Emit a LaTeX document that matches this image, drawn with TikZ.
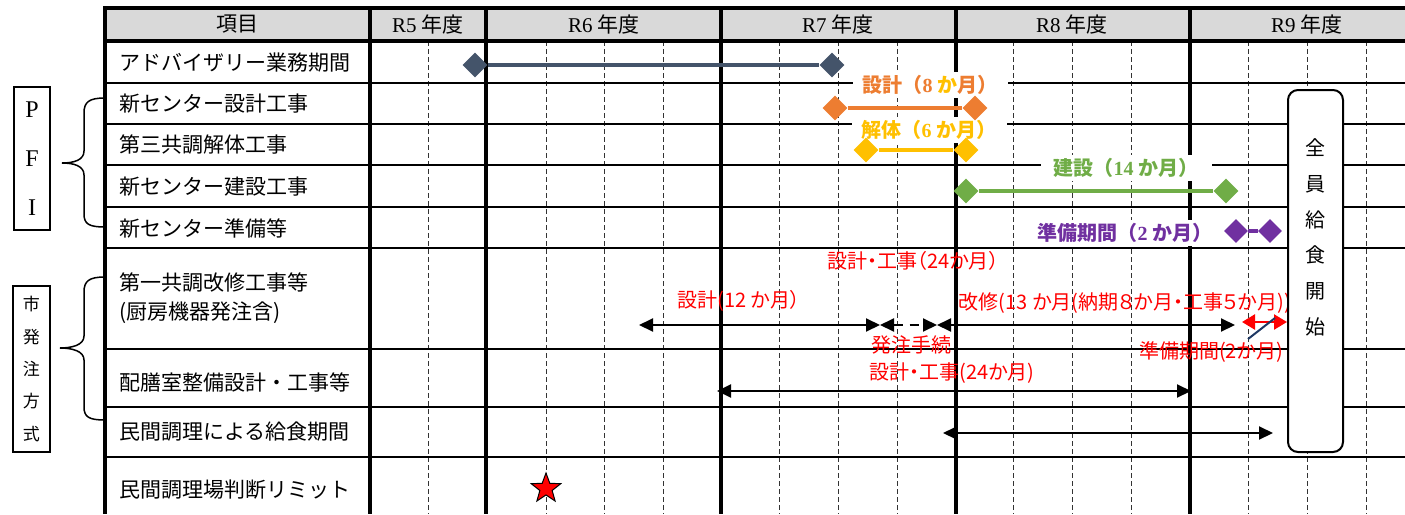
\documentclass[tikz,border=0pt]{standalone}
\usepackage{fontspec}
\setmainfont{Liberation Serif}
\newfontfamily\jp{Noto Sans CJK JP}
\newfontfamily\jpp[RawFeature={+palt}]{Noto Sans CJK JP}
\usetikzlibrary{shapes.geometric,arrows.meta}
\definecolor{hdrgray}{HTML}{D9D9D9}
\definecolor{slate}{HTML}{44546A}
\definecolor{cOrange}{HTML}{ED7D31}
\definecolor{cGold}{HTML}{FFC000}
\definecolor{cGreen}{HTML}{70AD47}
\definecolor{cPurple}{HTML}{7030A0}
\definecolor{cRed}{HTML}{FF0000}
\definecolor{cNavy}{HTML}{1F3864}
\newcommand\jb{\jp\bfseries}
\begin{document}
\begin{tikzpicture}[x=1pt,y=-1pt,
  thickline/.style={line width=3.2pt,black},
  rowline/.style={line width=2.2pt,black},
  dashline/.style={line width=1pt,black!80,dash pattern=on 5pt off 3pt},
  hdr/.style={inner sep=0pt,font=\fontsize{21}{24}\selectfont},
  rowlab/.style={anchor=west,inner sep=0pt,font=\jp\fontsize{21}{29}\selectfont,align=left},
  dia/.style={diamond,inner sep=0pt,minimum width=25pt,minimum height=25pt},
  bar/.style={line width=4pt},
  clabel/.style={fill=white,inner xsep=10pt,inner ysep=3pt,font=\fontsize{20}{22}\selectfont},
  rlabel/.style={text=cRed,inner sep=0pt,font=\jpp\fontsize{20}{22}\selectfont},
  arr/.style={line width=2pt,{Triangle[length=14pt,width=13pt]}-{Triangle[length=14pt,width=13pt]}},
  sidebox/.style={draw,line width=1.5pt,inner sep=0pt,align=center},
  brace/.style={line width=1.5pt}
]
\useasboundingbox (0,0) rectangle (1405,514);
% header fill
\fill[hdrgray] (105,8) rectangle (1405,41);
% dashed quarter lines
\foreach \x in {428,546,604,663,779,838,897,1013,1072,1131,1248,1307,1366}
  \draw[dashline] (\x,41) -- (\x,514);
% row lines
\foreach \y in {83,124,165,207,248,349,407,457}
  \draw[rowline] (105,\y) -- (1405,\y);
\draw[thickline] (103.4,8) -- (1405,8);
\draw[thickline] (105,41) -- (1405,41);
\foreach \x in {105,370,486,721,956,1190}
  \draw[thickline] (\x,6.4) -- (\x,514);

% header texts
\node[hdr] (h0) at (237.5,24) {\jp 項目};
\node[hdr] (h5) at (428,24) {R5 {\jp 年度}};
\node[hdr] (h6) at (604,24) {R6 {\jp 年度}};
\node[hdr] (h7) at (838,24) {R7 {\jp 年度}};
\node[hdr] (h8) at (1072,24) {R8 {\jp 年度}};
\node[hdr] (h9) at (1307,24) {R9 {\jp 年度}};

% row labels
\node[rowlab] (r1) at (119,63) {アドバイザリー業務期間};
\node[rowlab] (r2) at (119,104) {新センター設計工事};
\node[rowlab] (r3) at (119,145) {第三共調解体工事};
\node[rowlab] (r4) at (119,187) {新センター建設工事};
\node[rowlab] (r5) at (119,229) {新センター準備等};
\node[rowlab] (r6) at (119,298) {第一共調改修工事等\\(厨房機器発注含)};
\node[rowlab] (r7) at (119,382) {配膳室整備設計・工事等};
\node[rowlab] (r8) at (119,432) {民間調理による給食期間};
\node[rowlab] (r9) at (119,490) {民間調理場判断リミット};

% side boxes
\node[sidebox,minimum width=36pt,minimum height=143pt,font=\fontsize{24}{49}\selectfont] (pfi) at (32,158.5) {P\\F\\I};
\node[sidebox,minimum width=37pt,minimum height=166pt,font=\jp\fontsize{17}{32.3}\selectfont] (city) at (31.5,369) {市\\発\\注\\方\\式};

% braces
\coordinate (b1t) at (105,98);
\coordinate (b1b) at (105,227);
\draw[brace] (b1t) .. controls (89,98) and (84,102) .. (84,113) -- (84,151)
  .. controls (84,160) and (74,163) .. (62,163)
  .. controls (74,163) and (84,166) .. (84,175) -- (84,214)
  .. controls (84,224) and (89,227) .. (b1b);
\coordinate (b2t) at (105,277);
\coordinate (b2b) at (105,420);
\draw[brace] (b2t) .. controls (89,277) and (84,281) .. (84,292) -- (84,336)
  .. controls (84,345) and (72,348) .. (60,348)
  .. controls (72,348) and (84,351) .. (84,360) -- (84,407)
  .. controls (84,417) and (89,420) .. (b2b);

% coloured labels (white background)
\node[clabel] (l1) at (930,85) {\textcolor{cOrange}{\jb 設計（}\textcolor{cOrange}{\bfseries 8} \textcolor{cGold}{\jb か}\textcolor{cOrange}{\jb 月）}};
\node[clabel,text=cGold] (l2) at (929,130) {{\jb 解体（}{\bfseries 6} {\jb か月）}};
\node[clabel,text=cGreen,inner xsep=13pt] (l3) at (1126,168) {{\jb 建設（}{\bfseries 14} {\jb か月）}};
\node[clabel,text=cPurple] (l4) at (1125,233) {{\jb 準備期間（}{\bfseries 2} {\jb か月）}};

% bars
\node[dia,fill=slate] (a1) at (475,65) {};
\node[dia,fill=slate] (a2) at (832,65) {};
\draw[bar,slate] (a1) -- (a2);
\node[dia,fill=cOrange] (o1) at (835,108) {};
\node[dia,fill=cOrange] (o2) at (975,108) {};
\draw[bar,cOrange] (o1) -- (o2);
\node[dia,fill=cGold] (g1) at (866,150) {};
\node[dia,fill=cGold] (g2) at (966,150) {};
\draw[bar,cGold] (g1) -- (g2);
\node[dia,fill=cGreen] (e1) at (966,191) {};
\node[dia,fill=cGreen] (e2) at (1226,191) {};
\draw[bar,cGreen] (e1) -- (e2);
\node[dia,fill=cPurple,minimum width=24pt,minimum height=24pt] (p1) at (1236,231) {};
\node[dia,fill=cPurple,minimum width=24pt,minimum height=24pt] (p2) at (1270,231) {};
\draw[bar,cPurple] (p1) -- (p2);

% red labels
\node[rlabel] (t1) at (913,261) {設計・工事（24か月）};
\node[rlabel] (t2) at (739,301) {設計(12 か月）};
\node[rlabel] (t3) at (1125,303) {改修(13 か月(納期８か月・工事５か月))};
\node[rlabel] (t4) at (911,345) {発注手続};
\node[rlabel] (t5) at (1211,352) {準備期間(2か月)};
\node[rlabel] (t6) at (952,373) {設計・工事(24か月)};

% arrows row 6
\coordinate (s1) at (639,325);
\coordinate (s2) at (880,325);
\coordinate (s3) at (937,325);
\coordinate (s4) at (1235,325);
\draw[arr] (s1) -- (s2);
\draw[arr,dash pattern=on 9pt off 7pt] (s2) -- (s3);
\draw[arr] (s3) -- (s4);
% small red arrow + navy stroke
\coordinate (m1) at (1242,322);
\coordinate (m2) at (1287,322);
\draw[cRed,line width=2.5pt,{Triangle[length=13pt,width=15pt]}-{Triangle[length=13pt,width=15pt]}] (m1) -- (m2);
\coordinate (n1) at (1248,339);
\coordinate (n2) at (1275,318);
\draw[cNavy,line width=2pt] (n1) -- (n2);
% arrows row 7, 8
\coordinate (u1) at (717,391);
\coordinate (u2) at (1191,391);
\draw[arr] (u1) -- (u2);
\coordinate (v1) at (943,433);
\coordinate (v2) at (1273,433);
\draw[arr] (v1) -- (v2);

% start-of-service box
\node[draw,line width=2pt,rounded corners=10pt,fill=white,minimum width=55pt,minimum height=362pt,inner sep=0pt] (start) at (1315.5,271) {};
\node[inner sep=0pt,align=center,font=\jp\fontsize{20}{35.8}\selectfont] (startt) at (1315.5,237.5) {全\\員\\給\\食\\開\\始};

% star
\node[star,star points=5,star point ratio=2.4,minimum size=31pt,inner sep=0pt,fill=cRed,draw=black,line width=1pt] (lim) at (546,488.5) {};
\end{tikzpicture}
\end{document}
